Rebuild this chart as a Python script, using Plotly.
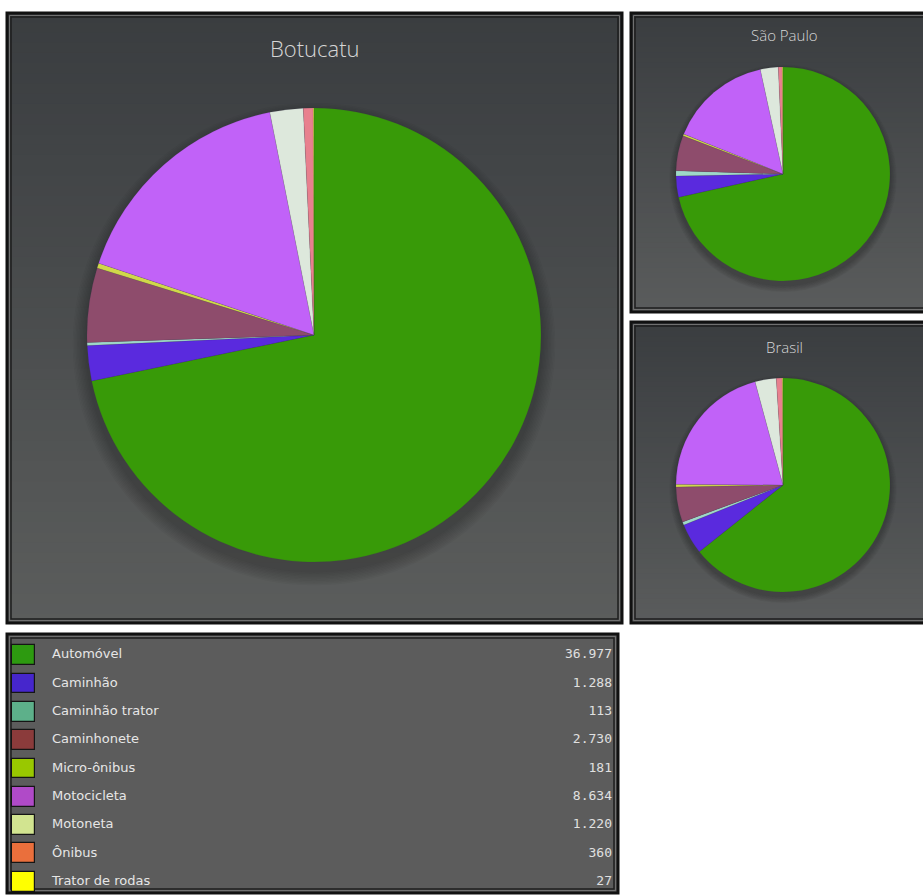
import plotly.graph_objects as go

W, H = 923, 895

# ---------------- data ----------------
categories = ["Automóvel", "Caminhão", "Caminhão trator", "Caminhonete", "Micro-ônibus",
              "Motocicleta", "Motoneta", "Ônibus", "Trator de rodas"]
botucatu = [36977, 1288, 113, 2730, 181, 8634, 1220, 360, 27]
sao_paulo = [13585, 608, 152, 1007, 57, 2945, 513, 114, 19]      # estimated (thousands)
brasil = [40509, 2898, 315, 3339, 252, 13041, 2016, 567, 63]      # estimated (thousands)
titles = ["Botucatu", "São Paulo", "Brasil"]

# ---------------- styles ----------------
pie_colors = ["#389a08", "#5a2ade", "#9fd8c8", "#8e4c6c", "#d0d84a",
              "#c162f8", "#dde8dc", "#e8808e", "#f4f040"]
legend_colors = ["#2d9a10", "#4626cc", "#5db08a", "#8b3b3b", "#99c800",
                 "#b04ac8", "#d2e490", "#ea6f3c", "#ffff00"]


def px(x):
    return x / W


def py(y):
    return 1 - y / H


def mix(c1, c2, t):
    a = [int(c1[i:i + 2], 16) for i in (1, 3, 5)]
    b = [int(c2[i:i + 2], 16) for i in (1, 3, 5)]
    return "rgb(%d,%d,%d)" % tuple(round(a[k] + (b[k] - a[k]) * t) for k in range(3))


shapes = []


def panel(x0, y0, x1, y1, top, bottom, bands=60):
    h = (y1 - y0) / bands
    for i in range(bands):
        t = i / (bands - 1) if bands > 1 else 0
        # each band runs to the panel bottom so the next one overlaps it (no seams)
        shapes.append(dict(type="rect", xref="paper", yref="paper", layer="below",
                           x0=px(x0), x1=px(x1), y0=py(y0 + i * h), y1=py(y1),
                           fillcolor=mix(top, bottom, t), line=dict(width=0)))
    for inset, col, wd in [(1, "#111111", 3), (3.5, "#707070", 1), (5, "#1e1e1e", 1.5)]:
        shapes.append(dict(type="rect", xref="paper", yref="paper", layer="below",
                           x0=px(x0 + inset), x1=px(x1 - inset), y0=py(y0 + inset), y1=py(y1 - inset),
                           line=dict(color=col, width=wd), fillcolor="rgba(0,0,0,0)"))


def shadow(cx, cy, r, oy, spread):
    n = 10
    for k in range(n, 0, -1):
        rr = r + k * spread / n
        shapes.append(dict(type="circle", xref="paper", yref="paper", layer="below",
                           x0=px(cx - rr), x1=px(cx + rr), y0=py(cy + oy + rr), y1=py(cy + oy - rr),
                           fillcolor="rgba(30,30,40,0.035)", line=dict(width=0)))


# panels
panel(6, 12, 623, 624, "#3a3d40", "#5b5d5c")
panel(630, 12, 930, 313, "#3a3d40", "#5a5c5c")
panel(630, 321, 930, 624, "#3a3d40", "#5a5c5c")
panel(6, 633, 619, 894, "#5c5c5c", "#5c5c5c", bands=1)

pies = [(botucatu, 314, 335, 227), (sao_paulo, 783, 174, 107), (brasil, 783, 485, 107)]
for vals, cx, cy, r in pies:
    shadow(cx, cy, r, r / 25, r / 16)

fig = go.Figure()

for (vals, cx, cy, r), name in zip(pies, titles):
    fig.add_trace(go.Pie(
        labels=categories, values=vals, sort=False, direction="clockwise", rotation=0,
        marker=dict(colors=pie_colors, line=dict(color="rgba(60,40,90,0.2)", width=0.5)),
        textinfo="none", hoverinfo="label+value+percent", showlegend=False,
        domain=dict(x=[px(cx - r), px(cx + r)], y=[py(cy + r), py(cy - r)]),
        name=name,
    ))

# ---------------- legend table (own axes) ----------------
idx = list(range(len(categories)))
fig.add_trace(go.Bar(
    y=idx, x=[23] * len(idx), base=[12] * len(idx), orientation="h", width=0.7,
    marker=dict(color=legend_colors, line=dict(color="#151515", width=1.2)),
    xaxis="x", yaxis="y", showlegend=False, hoverinfo="skip"))
fig.add_trace(go.Scatter(
    y=idx, x=[52] * len(idx), mode="text", text=categories, textposition="middle right",
    textfont=dict(family="DejaVu Sans", size=13, color="#e6e6e6"),
    xaxis="x", yaxis="y", showlegend=False, hoverinfo="skip"))
fig.add_trace(go.Scatter(
    y=idx, x=[612] * len(idx), mode="text",
    text=[f"{v:,}".replace(",", ".") for v in botucatu], textposition="middle left",
    textfont=dict(family="DejaVu Sans Mono", size=13, color="#e0e0e0"),
    xaxis="x", yaxis="y", showlegend=False, hoverinfo="skip"))

pitch = 28.1
top_off = (656 - 634) / pitch
span = (893 - 634) / pitch

title_font = "Open Sans"
annotations = [
    dict(text="Botucatu", x=px(315), y=py(48), xref="paper", yref="paper", showarrow=False,
         font=dict(family=title_font, size=22, color="#d6d6d6", weight=300),
         xanchor="center", yanchor="middle"),
    dict(text="São Paulo", x=px(784), y=py(35), xref="paper", yref="paper", showarrow=False,
         font=dict(family=title_font, size=15, color="#d6d6d6", weight=300),
         xanchor="center", yanchor="middle"),
    dict(text="Brasil", x=px(784), y=py(347), xref="paper", yref="paper", showarrow=False,
         font=dict(family=title_font, size=15, color="#d6d6d6", weight=300),
         xanchor="center", yanchor="middle"),
]

fig.update_layout(
    width=W, height=H, margin=dict(l=0, r=0, t=0, b=0),
    paper_bgcolor="#ffffff", plot_bgcolor="rgba(0,0,0,0)",
    shapes=shapes, annotations=annotations,
    xaxis=dict(domain=[px(6), px(619)], range=[6, 619], visible=False, fixedrange=True),
    yaxis=dict(domain=[py(894), py(633)], range=[span - top_off, -top_off],
               visible=False, fixedrange=True),
    bargap=0,
)

fig.write_html("out.html")
